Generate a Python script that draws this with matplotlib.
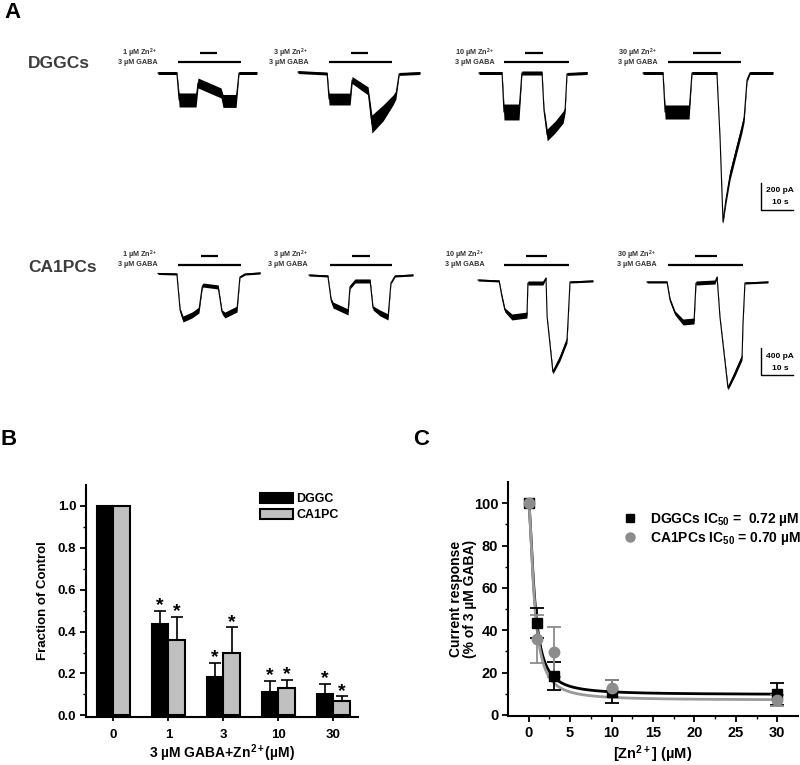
import numpy as np
import matplotlib
matplotlib.use('Agg')
import matplotlib.pyplot as plt
from matplotlib.patches import Patch
from matplotlib.lines import Line2D

plt.rcParams['font.family'] = ['Liberation Sans', 'DejaVu Sans']
plt.rcParams['font.weight'] = 'bold'
plt.rcParams['mathtext.fontset'] = 'custom'
plt.rcParams['mathtext.rm'] = 'Liberation Sans:bold'
plt.rcParams['mathtext.bf'] = 'Liberation Sans:bold'
plt.rcParams['mathtext.it'] = 'Liberation Sans:bold:italic'

# ---------------- data ----------------
zn_conc = [1, 3, 10, 30]

# A: current traces (time in s from trace start, current in pA, noise half-width in pA)
dggc_time = [
    [0, 5.9, 6.6, 11.9, 12.5, 19.7, 20.3, 24.4, 25.3, 30.9],
    [0, 9.1, 9.7, 16.3, 16.9, 21.9, 23.1, 26.6, 29.7, 30.6, 31.6, 38.1],
    [0, 7.2, 7.8, 12.5, 13.4, 19.7, 20.3, 21.3, 23.8, 26.3, 26.9, 27.5, 33.8],
    [0, 6.25, 6.9, 14.4, 15.3, 23.1, 24.1, 25.0, 25.9, 27.2, 29.4, 30.9, 31.6, 32.5, 33.4, 40.6],
]
dggc_curr = [
    [0, 0, -200, -200, -74, -148, -207, -207, 0, 0],
    [7, -4, -193, -193, -52, -133, -378, -296, -200, -163, -7, 0],
    [0, 0, -289, -289, 0, 0, -274, -459, -400, -326, -274, -7, 0],
    [0, 0, -289, -289, 0, 0, -496, -1104, -941, -756, -548, -408, -333, -52, 0, 0],
]
dggc_noise = [
    [11, 11, 52, 52, 37, 37, 48, 48, 11, 11],
    [11, 11, 44, 44, 26, 30, 67, 59, 37, 30, 11, 11],
    [11, 11, 59, 59, 15, 15, 22, 44, 44, 44, 22, 11, 11],
    [11, 11, 52, 52, 11, 11, 11, 15, 30, 37, 37, 37, 30, 15, 11, 11],
]
dggc_gaba = [(6.25, 25.9), (9.7, 29.4), (7.8, 28.1), (7.8, 30.6)]
dggc_zn = [(13.1, 18.4), (16.6, 21.9), (14.4, 20.0), (15.6, 24.4)]

ca1_time = [
    [0, 5.9, 6.9, 7.8, 10.6, 12.8, 13.8, 14.1, 18.8, 20.0, 20.9, 24.7, 25.6, 27.2, 31.9],
    [0, 5.9, 6.9, 7.5, 12.2, 12.8, 14.4, 19.1, 20.0, 22.2, 24.7, 25.6, 26.9, 32.5],
    [0, 6.6, 7.5, 8.4, 10.6, 15.3, 15.6, 20.3, 21.25, 21.6, 23.4, 25.6, 27.8, 28.1, 28.75, 35.9],
    [0, 6.25, 7.2, 8.75, 11.25, 14.7, 15.3, 21.25, 21.9, 22.8, 25.3, 27.5, 29.7, 30.0, 30.6, 37.8],
]
ca1_curr = [
    [-7, -15, -548, -681, -622, -548, -207, -178, -207, -577, -622, -533, -59, -15, 0],
    [-30, -44, -400, -474, -577, -207, -118, -118, -518, -592, -651, -148, -44, -30],
    [-104, -118, -355, -548, -651, -622, -148, -148, -74, -651, -1465, -1258, -992, -740, -133, -118],
    [-133, -133, -400, -592, -725, -710, -148, -133, -59, -651, -1702, -1480, -1243, -740, -148, -133],
]
ca1_noise = [
    [15, 15, 30, 44, 44, 44, 30, 30, 30, 30, 44, 44, 15, 15, 15],
    [15, 15, 30, 44, 44, 30, 30, 30, 30, 44, 44, 15, 15, 15],
    [15, 15, 30, 30, 44, 44, 30, 30, 15, 15, 30, 44, 44, 30, 15, 15],
    [15, 15, 30, 30, 44, 44, 30, 30, 15, 15, 30, 44, 44, 30, 15, 15],
]
ca1_gaba = [(6.25, 25.9), (6.6, 25.9), (8.1, 28.4), (6.6, 30.0)]
ca1_zn = [(13.4, 18.75), (13.4, 19.1), (15.0, 21.6), (15.0, 21.9)]

# B: fraction of control
b_labels = ['0', '1', '3', '10', '30']
dggc_frac = [1.0, 0.435, 0.185, 0.11, 0.10]
dggc_sem = [0, 0.065, 0.065, 0.055, 0.05]
ca1_frac = [1.0, 0.36, 0.30, 0.13, 0.07]
ca1_sem = [0, 0.11, 0.12, 0.04, 0.02]

# C: concentration-response
c_conc = [0, 1, 3, 10, 30]
dggc_resp = [100, 43.3, 18.5, 11.0, 9.8]
dggc_err = [0, 7.0, 6.5, 5.5, 5.3]
ca1_resp = [100, 35.8, 29.7, 12.5, 6.9]
ca1_err = [0, 11.5, 12.0, 4.0, 2.5]
dggc_ic50, dggc_bottom, dggc_hill = 0.72, 9.6, 1.6
ca1_ic50, ca1_bottom, ca1_hill = 0.70, 7.0, 1.6

W, H = 800, 765
fig = plt.figure(figsize=(W / 100, H / 100), dpi=100)


def px_axes(left, top, width, height):
    return fig.add_axes([left / W, 1 - (top + height) / H, width / W, height / H])


# ---------------- panel A ----------------
px_per_s = 3.2
rows = [
    dict(name='DGGCs', name_y=63, x0=[158, 298, 479, 643], top=40, height=195, ref=73, pa=7.41,
         t=dggc_time, c=dggc_curr, n=dggc_noise, gaba=dggc_gaba, zn=dggc_zn,
         lab_x=[0, 3.4, 5.0, 4.7], scale=200, bar_py=(62, 53), lab_py=(53.5, 62.5),
         sb_py=210, sb_text_py=(190, 202)),
    dict(name='CA1PCs', name_y=267, x0=[158, 309, 478, 647], top=245, height=160, ref=273, pa=14.8,
         t=ca1_time, c=ca1_curr, n=ca1_noise, gaba=ca1_gaba, zn=ca1_zn,
         lab_x=[0, -0.3, 2.2, 3.1], scale=400, bar_py=(265, 256), lab_py=(255.5, 264.5),
         sb_py=375, sb_text_py=(356, 368)),
]
for row in rows:
    fig.text(28 / W, 1 - row['name_y'] / H, row['name'], fontsize=12.5, fontweight='bold',
             color='#3c3c3c', va='center', ha='left')
    ref, pa = row['ref'], row['pa']
    for k in range(4):
        ax = px_axes(row['x0'][k], row['top'], 140, row['height'])
        ax.set_xlim(0, 140 / px_per_s)
        ax.set_ylim((ref - row['top'] - row['height']) * pa, (ref - row['top']) * pa)
        ax.axis('off')
        t = np.array(row['t'][k])
        c = np.array(row['c'][k])
        n = np.array(row['n'][k])
        ax.fill_between(t, c - n, c + n, color='black', lw=0, clip_on=False)
        ax.plot(t, c, color='black', lw=0.8, clip_on=False)
        long_y = (ref - row['bar_py'][0]) * pa
        short_y = (ref - row['bar_py'][1]) * pa
        ax.plot(row['gaba'][k], [long_y, long_y], color='black', lw=1.6, solid_capstyle='butt')
        ax.plot(row['zn'][k], [short_y, short_y], color='black', lw=1.6, solid_capstyle='butt')
        ax.text(row['lab_x'][k], (ref - row['lab_py'][0]) * pa,
                '%d µM Zn$^{2+}$' % zn_conc[k], ha='right', va='center', fontsize=5.2,
                color='#333333')
        ax.text(row['lab_x'][k], (ref - row['lab_py'][1]) * pa, '3 µM GABA',
                ha='right', va='center', fontsize=5.2, color='#333333')
        if k == 3:
            sb_x = (761 - row['x0'][k]) / px_per_s
            sb_y = (ref - row['sb_py']) * pa
            ax.plot([sb_x, sb_x, sb_x + 10], [sb_y + row['scale'], sb_y, sb_y],
                    color='black', lw=1.0, clip_on=False)
            tx = sb_x + 6
            ax.text(tx, (ref - row['sb_text_py'][0]) * pa, '%d pA' % row['scale'],
                    ha='center', va='center', fontsize=6, clip_on=False)
            ax.text(tx, (ref - row['sb_text_py'][1]) * pa, '10 s',
                    ha='center', va='center', fontsize=6, clip_on=False)

# panel letters
fig.text(4 / W, 1 - 2 / H, 'A', fontsize=16, fontweight='bold', va='top', ha='left')
fig.text(1 / W, 1 - 429 / H, 'B', fontsize=16, fontweight='bold', va='top', ha='left')
fig.text(413 / W, 1 - 429 / H, 'C', fontsize=16, fontweight='bold', va='top', ha='left')

# ---------------- panel B ----------------
axb = px_axes(86, 485, 272, 232)
x = np.arange(len(b_labels))
axb.bar(x - 0.15, dggc_frac, 0.3, color='black', edgecolor='black', lw=1.5, zorder=2)
axb.bar(x + 0.15, ca1_frac, 0.3, color='#c0c0c0', edgecolor='black', lw=1.5, zorder=2)
for pos, vals, errs in [(x - 0.15, dggc_frac, dggc_sem), (x + 0.15, ca1_frac, ca1_sem)]:
    axb.errorbar(pos[1:], vals[1:], yerr=[np.zeros(4), errs[1:]], fmt='none', ecolor='black',
                 elinewidth=1.2, capsize=4, capthick=1.2, zorder=1)
    for i in range(1, 5):
        axb.text(pos[i], vals[i] + errs[i] + 0.003, '*', ha='center', va='baseline',
                 fontsize=14, fontweight='bold')
axb.set_xlim(-0.5, 4.45)
axb.set_ylim(-0.008, 1.1)
axb.set_xticks(x)
axb.set_xticklabels(b_labels)
axb.set_yticks(np.arange(0, 1.01, 0.2))
axb.set_yticks(np.arange(0, 1.1, 0.1), minor=True)
axb.yaxis.set_major_formatter(matplotlib.ticker.FormatStrFormatter('%.1f'))
axb.tick_params(axis='x', length=3, width=1.3, pad=6, labelsize=9.5)
axb.tick_params(axis='y', which='major', length=4, width=1.3, labelsize=9.5, pad=3)
axb.tick_params(axis='y', which='minor', length=2, width=1.0)
for s in ['top', 'right']:
    axb.spines[s].set_visible(False)
for s in ['left', 'bottom']:
    axb.spines[s].set_linewidth(1.5)
axb.set_ylabel('Fraction of Control', fontsize=9.5, fontweight='bold', labelpad=6)
axb.set_xlabel('3 µM GABA+Zn$^{2+}$(µM)', fontsize=10, fontweight='bold', labelpad=0.5)
axb.legend(handles=[Patch(facecolor='black', edgecolor='black', lw=1.5, label='DGGC'),
                    Patch(facecolor='#c0c0c0', edgecolor='black', lw=1.5, label='CA1PC')],
           loc='upper left', bbox_to_anchor=(0.64, 0.965), frameon=False, fontsize=9,
           handlelength=2.6, handleheight=0.85, handletextpad=0.3, labelspacing=0.3,
           borderpad=0, borderaxespad=0)

# ---------------- panel C ----------------
axc = px_axes(508, 482, 290, 234)
xf = np.linspace(0, 30, 600)
fit_dg = dggc_bottom + (100 - dggc_bottom) / (1 + (xf / dggc_ic50) ** dggc_hill)
fit_ca = ca1_bottom + (100 - ca1_bottom) / (1 + (xf / ca1_ic50) ** ca1_hill)
axc.plot(xf, fit_dg, color='black', lw=2, zorder=2)
axc.plot(xf, fit_ca, color='#9a9a9a', lw=2, zorder=2)
axc.errorbar(c_conc[1:], dggc_resp[1:], yerr=dggc_err[1:], fmt='none', ecolor='black',
             elinewidth=1.3, capsize=5, capthick=1.3, zorder=3)
axc.errorbar(c_conc[1:], ca1_resp[1:], yerr=ca1_err[1:], fmt='none', ecolor='#8c8c8c',
             elinewidth=1.3, capsize=5, capthick=1.3, zorder=3)
axc.plot(c_conc, dggc_resp, 's', color='black', ms=6.5, zorder=4)
axc.plot(c_conc, ca1_resp, 'o', color='#8c8c8c', ms=7.5, zorder=5)
axc.set_xlim(-2.5, 32.5)
axc.set_ylim(-0.5, 110)
axc.set_xticks(np.arange(0, 31, 5))
axc.set_xticks(np.arange(0, 32.5, 2.5), minor=True)
axc.set_yticks(np.arange(0, 101, 20))
axc.set_yticks(np.arange(0, 110, 10), minor=True)
axc.tick_params(which='major', length=4, width=1.3, labelsize=10.5, pad=3)
axc.tick_params(which='minor', length=2, width=1.0)
for s in ['top', 'right']:
    axc.spines[s].set_visible(False)
for s in ['left', 'bottom']:
    axc.spines[s].set_linewidth(1.5)
axc.set_ylabel('Current response\n(% of 3 µM GABA)', fontsize=10, fontweight='bold',
               labelpad=-2, linespacing=0.95)
axc.set_xlabel('[Zn$^{2+}$] (µM)', fontsize=10.5, fontweight='bold', labelpad=3)
axc.legend(handles=[Line2D([], [], marker='s', color='black', ls='none', ms=5.5,
                           label='DGGCs IC$_{50}$ =  0.72 µM'),
                    Line2D([], [], marker='o', color='#8c8c8c', ls='none', ms=6.5,
                           label='CA1PCs IC$_{50}$ = 0.70 µM')],
           loc='upper left', bbox_to_anchor=(0.397, 0.875), frameon=False, fontsize=10,
           handlelength=1.0, handletextpad=0.95, labelspacing=0.1, borderpad=0,
           borderaxespad=0)

fig.savefig('out.png', dpi=100)
